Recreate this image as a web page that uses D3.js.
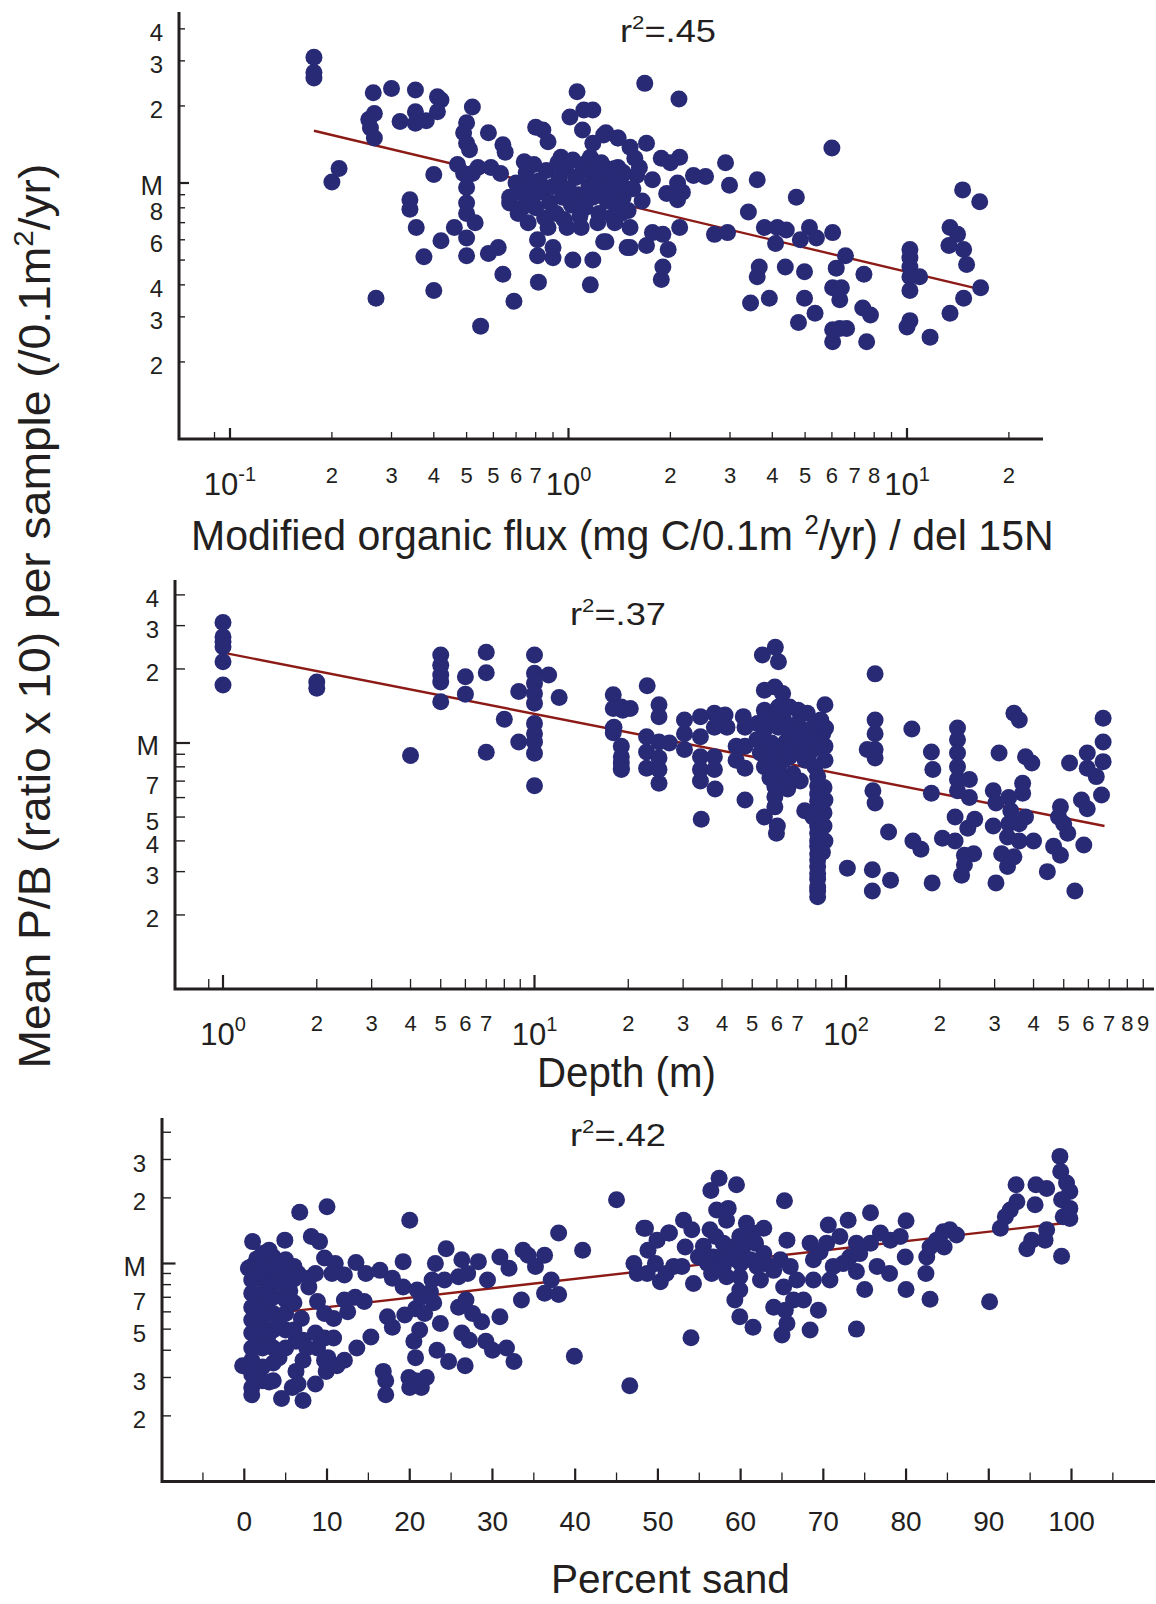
<!DOCTYPE html>
<html>
<head>
<meta charset="utf-8">
<script src="https://cdn.jsdelivr.net/npm/d3@7"></script>
<style>
  body { margin: 0; background: #fff; }
  text { font-family: "Liberation Sans", Arial, Helvetica, sans-serif; fill: #231f20; }
</style>
</head>
<body>
<script>
// ---- data ----
// top: P/B vs modified organic flux / del 15N  [flux, P/B]
var fluxPts = [
  [0.177,3.1],[0.177,2.7],[0.177,2.57],[0.2,1.01],[0.21,1.14],
  [0.265,2.25],[0.257,1.77],[0.267,1.87],[0.26,1.64],[0.267,1.5],
  [0.30,2.34],[0.353,2.31],[0.318,1.74],[0.353,1.9],[0.353,1.71],[0.38,1.75],
  [0.41,2.17],[0.42,2.11],[0.41,1.9],[0.40,1.08],
  [0.34,0.86],[0.34,0.79],[0.355,0.67],[0.374,0.515],[0.42,0.595],[0.40,0.38],[0.27,0.355],
  [0.52,1.98],[0.50,1.72],[0.49,1.57],[0.50,1.43],[0.51,1.35],[0.47,1.18],[0.49,1.09],[0.52,1.09],
  [0.50,0.96],[0.54,1.15],[0.50,0.835],[0.50,0.76],[0.53,0.70],[0.50,0.61],[0.50,0.52],[0.46,0.67],
  [0.58,0.53],[0.62,0.56],[0.64,0.44],[0.69,0.345],[0.55,0.276],
  [0.58,1.57],[0.64,1.41],[0.65,1.32],[0.59,1.15],[0.63,1.09],
  [0.74,1.21],[0.80,1.65],[0.84,1.61],[0.87,1.45],[0.67,0.88],[0.67,0.835],[0.71,0.76],[0.76,0.70],
  [0.87,0.67],[0.81,0.60],[0.81,0.52],[0.90,0.51],[0.90,0.56],[0.815,0.41],[1.03,0.50],[1.18,0.50],
  [1.16,0.40],[1.27,0.59],[1.49,0.56],[0.99,0.67],[1.09,0.67],[1.06,2.27],[1.01,1.81],[1.10,1.61],
  [1.11,1.93],[1.18,1.93],[1.18,1.43],[1.27,1.54],[1.40,1.5],[1.40,1.15],[0.95,1.26],[1.03,1.23],[1.16,1.26],
  [0.70,1.0],[0.72,0.92],[0.75,1.1],[0.77,0.97],[0.78,0.86],[0.80,0.80],[0.82,1.02],[0.84,0.92],
  [0.86,1.12],[0.88,0.84],[0.90,0.97],[0.92,0.76],[0.94,1.05],[0.96,0.88],[0.98,1.14],[1.0,0.95],
  [1.02,0.82],[1.05,1.05],[1.07,0.90],[1.10,1.12],[1.12,0.80],[1.15,0.98],[1.18,0.88],[1.20,1.08],
  [1.23,0.76],[1.25,0.95],[1.28,1.15],[1.30,0.85],[1.33,1.02],[1.36,0.92],[1.40,0.80],[1.43,1.06],
  [1.46,0.96],[0.73,0.80],[0.85,0.73],[0.97,0.72],[1.08,0.74],[0.79,1.18],[0.93,1.20],[1.13,1.20],
  [1.22,0.70],[1.35,0.74],
  [1.68,2.45],[2.12,2.13],[6.0,1.37],
  [1.29,1.57],[1.40,1.50],[1.52,1.38],[1.70,1.43],[1.57,1.25],[1.88,1.25],[2.13,1.26],[2.0,1.2],
  [1.77,1.03],[1.59,1.07],[1.37,1.14],[1.37,0.96],[1.30,0.86],[1.43,0.76],[1.52,0.67],[1.37,0.70],
  [1.29,0.59],[1.52,0.56],[1.70,0.57],[1.77,0.64],[1.90,0.63],[1.97,0.55],[1.90,0.47],[1.88,0.42],
  [1.95,0.91],[2.10,0.86],[2.17,0.92],[2.13,0.67],[2.10,1.0],[2.34,1.07],[2.54,1.06],[2.91,1.2],
  [2.99,0.98],[2.70,0.63],[2.95,0.64],[3.61,1.03],[3.40,0.77],[3.79,0.67],[4.14,0.67],[4.09,0.58],
  [4.40,0.655],[4.71,0.88],[4.84,0.60],[5.15,0.67],[5.40,0.61],[6.03,0.64],[6.58,0.52],[6.18,0.465],
  [7.46,0.44],[3.66,0.47],[3.61,0.43],[4.37,0.47],[4.98,0.45],[3.45,0.34],[3.92,0.355],[4.98,0.355],
  [5.35,0.31],[4.78,0.285],[6.03,0.39],[6.40,0.39],[6.33,0.35],[6.03,0.267],[6.33,0.27],[6.63,0.27],
  [6.03,0.24],[7.40,0.325],[7.8,0.305],[7.6,0.24],
  [10.2,0.55],[10.2,0.51],[10.2,0.47],[10.2,0.43],[10.9,0.43],[10.2,0.38],[10.2,0.29],[10.0,0.274],[11.7,0.25],
  [13.4,0.67],[14.1,0.63],[13.3,0.57],[14.7,0.55],[15.0,0.48],[14.6,0.94],[16.4,0.845],[16.5,0.39],
  [14.7,0.355],[13.4,0.31],
  [1.30,1.0],[1.45,1.1],[1.55,0.95],[1.45,0.88],[1.62,1.15],[1.25,1.2],[1.65,0.85],[1.50,0.78]
];
var fluxFit = [[0.177,1.6],[15.7,0.39]];

// middle: P/B vs depth (m)  [depth, P/B]
var depthPts = [
  [1,3.09],[1,2.70],[1,2.58],[1,2.46],[1,2.14],[1,1.72],[2,1.77],[2,1.67],[4,0.89],
  [5,2.28],[5,2.07],[5,1.89],[5,1.77],[5,1.47],[6,1.86],[6,1.58],[7,2.34],[7,1.93],[7,0.917],
  [8,1.25],[8.9,1.62],[8.9,1.01],
  [10,2.28],[10,1.92],[10,1.75],[10,1.59],[10,1.45],[10,1.20],[10,1.09],[10,1.01],[10,0.908],[10,0.67],
  [11.1,1.89],[12,1.53],
  [17.9,1.57],[17.9,1.38],[17.9,1.15],[17.9,1.1],[19,0.97],[19,0.88],[19,0.79],[19.2,1.36],
  [18,1.16],[19,1.40],[20.3,1.38],[19,0.83],[19,0.78],[23,1.71],[22.9,1.06],[22.9,0.92],[22.9,0.79],
  [25.1,1.43],[25.1,1.28],[25.1,1.01],[25.1,0.87],[25.1,0.78],[25.1,0.686],[27.1,1.0],
  [30.3,1.24],[30.3,1.09],[30.3,0.94],[34.1,1.28],[34.1,1.06],[34.1,0.88],[34.1,0.78],[34.1,0.70],
  [34.3,0.49],[37.8,1.32],[37.8,1.16],[37.8,0.88],[37.8,0.78],[38,0.65],[40.9,1.30],[41.5,1.16],
  [44.4,0.97],[44.4,0.85],[47.4,1.16],[47.4,0.97],[47.4,0.79],[46.8,1.28],[47.4,0.586],
  [53.9,2.28],[59.3,2.45],[60.7,2.14],[54.7,1.64],[59.1,1.69],[62.6,1.59],[54.7,1.36],[60.7,1.40],
  [65.9,1.40],[54.7,1.13],[60.7,1.16],[67.6,1.16],[51.7,1.03],[57.6,1.0],[64.1,1.01],[53.1,0.91],
  [59.1,0.88],[65.9,0.88],[54.7,0.80],[60.7,0.78],[67.6,0.75],[59.1,0.665],[59.1,0.605],[59.1,0.55],
  [54.7,0.50],[60.2,0.46],[59.8,0.43],[70.2,1.36],[71.3,1.09],[75.1,1.03],[75.1,1.32],[83,1.24],
  [85.6,1.43],[84.2,1.09],[85.6,0.97],[85.6,0.85],[79.5,0.80],[73.7,0.53],[71.3,0.70],
  [57,1.25],[63,1.25],[56,0.95],[62,0.95],[66,1.05],[52,1.2],[57,0.72],[63,0.85],[68,0.95],[70,1.2],
  [72,0.95],[74,0.85],[76,0.9],[79,0.95],[83,1.0],[78,1.15],[86,1.15],[62,0.72],[65,0.65],
  [81.1,0.73],[81.1,0.67],[81.1,0.62],[81.1,0.58],[81.1,0.55],[81.1,0.52],[81.1,0.49],[81.1,0.46],
  [81.1,0.43],[81.1,0.40],[81.1,0.38],[81.1,0.355],[81.1,0.335],[81.1,0.315],[81.1,0.295],[81.1,0.28],
  [81.1,0.26],[81.1,0.25],[81.1,0.237],[85.6,0.586],[85.6,0.40],[78.3,0.50],[85,0.66],[85,0.52],
  [85,0.46],[84,0.36],
  [101,0.31],[121.5,0.305],[139,0.277],[121.5,0.25],
  [124,1.91],[124,1.24],[124,1.09],[124,0.94],[124,0.87],[117,0.94],[122,0.64],[124,0.57],
  [137,0.435],[162.7,1.14],[164,0.40],[174,0.37],
  [188,0.92],[190,0.78],[188,0.625],[189,0.27],[204,0.41],[224,0.40],
  [228,1.15],[228,1.03],[228,0.91],[228,0.80],[228,0.71],[228,0.64],[249,0.71],[249,0.60],[224,0.50],
  [259,0.49],[246,0.45],[240,0.35],[257,0.355],[240,0.32],[235,0.29],
  [310,0.91],[297,0.64],[303,0.57],[333,0.60],[338,0.53],[333,0.47],[297,0.46],[330,0.415],[360,0.40],
  [400,0.40],[316,0.355],[346,0.345],[330,0.315],[303,0.27],[346,1.32],[360,1.24],
  [377,0.88],[395,0.83],[369,0.686],[369,0.625],[377,0.50],[360,0.47],
  [443,0.30],[464,0.38],[488,0.55],[481,0.50],[500,0.47],[515,0.43],[488,0.35],[522,0.83],[543,0.25],
  [580,0.385],[570,0.586],[595,0.54],[595,0.91],[595,0.79],[636,0.73],[661,0.615],[669,1.26],
  [669,1.01],[669,0.84]
];
var depthFit = [[1,2.33],[676,0.46]];

// bottom: P/B vs percent sand  [sand, P/B]
var sandPts = [
  [1.0,1.26],[6.7,1.72],[10.0,1.82],[4.9,1.28],[8.1,1.33],[9.1,1.26],[20.0,1.58],
  [0.9,0.97],[0.9,0.84],[0.9,0.73],[0.9,0.63],[0.9,0.55],[0.9,0.48],[0.9,0.41],[0.9,0.36],[0.9,0.31],
  [0.9,0.27],[0.9,0.25],[-0.2,0.34],
  [2.2,1.11],[2.2,0.97],[2.2,0.84],[2.2,0.73],[2.2,0.63],[2.2,0.55],[2.2,0.48],[2.2,0.41],[2.2,0.335],[2.2,0.29],
  [3.5,1.07],[3.5,0.93],[3.5,0.81],[3.5,0.70],[3.5,0.59],[3.5,0.495],[3.5,0.41],[3.5,0.35],[3.5,0.29],
  [4.5,0.24],[5,1.04],[5,0.90],[5,0.78],[5,0.68],[5,0.59],[5,0.495],[5,0.41],
  [6,0.97],[6,0.85],[6,0.66],[6,0.495],
  [6.9,0.56],[6.25,0.44],[7.1,0.445],[6.25,0.32],[6.5,0.28],[7.1,0.235],[5.8,0.27],[3.0,0.286],
  [1.5,1.05],[3,1.15],[4.2,0.88],[1.5,0.68],[2.8,0.62],[4.2,0.55],[1.5,0.45],[2.8,0.45],[4.2,0.37],
  [1.5,0.3],[5.5,0.75],[1.2,0.9],[6.5,0.9],[4,1.0],[2.5,1.05],[0.5,0.95],
  [7.8,0.855],[7.8,0.78],[8.6,0.90],[9.7,1.06],[11.0,1.0],[10.6,0.90],[12.1,0.885],[8.85,0.67],
  [9.7,0.59],[10.8,0.56],[12.1,0.68],[12.5,0.60],[13.4,0.70],[14.5,0.67],[13.5,1.01],[14.7,0.90],
  [16.4,0.93],[17.9,0.855],[19.2,1.02],[19.2,0.78],[17.3,0.57],[17.9,0.51],[19.4,0.58],[15.3,0.46],
  [13.6,0.41],[12.1,0.36],[11.2,0.34],[9.7,0.36],[8.85,0.41],[8.6,0.48],[9.7,0.455],[10.8,0.455],
  [7.55,0.41],[7.1,0.36],[8.6,0.28],[9.9,0.32],[10.1,0.37],
  [17.1,0.29],[17.1,0.25],[16.8,0.32],[19.9,0.30],[20.0,0.27],[21.4,0.27],[22.0,0.30],[20.7,0.29],
  [20.5,0.44],[20.7,0.37],[21.2,0.495],[20.7,0.62],[21.8,0.59],[21.4,0.70],[20.9,0.755],[22.5,0.74],
  [22.9,0.66],[23.7,0.53],[23.3,0.40],[24.7,0.355],[23.1,1.0],[22.7,0.84],[24.4,1.17],[24.2,0.84],
  [25.9,0.87],[26.3,1.04],[27.0,0.90],[25.9,0.63],[26.8,0.68],[27.6,0.59],[26.3,0.48],[27.2,0.445],
  [28.7,0.54],[28.3,1.02],[29.2,0.44],[30.0,0.40],[26.7,0.34],[29.4,0.84],[30.9,1.07],[32.0,0.95],
  [30.9,0.57],[31.7,0.41],[32.6,0.355],[33.5,0.68],[33.7,1.15],[34.3,1.09],[35.2,0.97],[36.3,1.09],
  [37.1,0.84],[36.3,0.73],[38.0,0.72],[38.0,1.38],[40.9,1.15],[39.9,0.375],[45.0,1.96],[46.6,0.275],
  [48.3,1.45],[47.1,1.0],[47.5,0.90],[48.8,1.15],[49.9,1.28],[49.7,1.0],[51.0,0.90],[51.4,1.38],
  [52.9,0.97],[53.1,1.58],[54.0,0.456],
  [56.4,2.16],[57.4,2.46],[59.5,2.30],[65.3,1.94],[48.5,1.45],[51.3,1.38],[54.1,1.43],[56.3,1.43],
  [57.1,1.76],[58.5,1.79],[58.3,1.58],[60.7,1.53],[62.8,1.45],[61.5,1.38],[59.9,1.33],[53.3,1.19],
  [54.9,1.07],[56.7,1.07],[57.9,1.24],[59.1,1.19],[60.3,1.19],[61.8,1.24],[62.8,1.11],[61.2,1.04],
  [59.5,1.04],[57.9,0.97],[58.3,0.87],[56.5,0.90],[51.9,0.97],[50.3,0.825],[48.7,0.90],[54.3,0.81],
  [59.9,0.87],[62.4,0.84],[59.9,0.755],[59.3,0.68],[59.9,0.57],[61.5,0.51],
  [55.5,1.2],[58,1.1],[60,1.0],[62,0.97],[56,1.0],[63,1.0],[57,1.33],[61,1.3],
  [65.6,1.28],[64.8,1.04],[64.0,0.93],[66.0,0.97],[66.8,0.84],[65.2,0.78],[66.4,0.68],[67.6,0.68],
  [64.0,0.63],[65.4,0.61],[65.6,0.53],[65.0,0.47],[68.4,0.495],[69.4,0.61],[68.4,1.24],[69.6,1.13],
  [68.8,1.04],[70.4,1.24],[71.2,0.97],[70.8,0.84],[68.8,0.84],[70.6,1.50],[72.0,1.33],[73.0,1.58],
  [74.0,1.24],[73.2,1.07],[72.4,1.0],[74.4,1.11],[74.0,0.92],[75.7,1.24],[76.9,1.38],[78.1,1.28],
  [75.7,1.71],[75.0,0.76],[76.5,0.97],[78.0,0.90],[79.3,1.33],[80.0,1.57],[79.9,1.07],[80.0,0.76],
  [74.0,0.50],
  [82.4,0.90],[82.5,1.07],[82.9,1.19],[83.7,1.28],[84.5,1.40],[85.3,1.43],[86.1,1.35],[84.6,1.19],
  [82.9,0.686],[90.1,0.667],
  [91.4,1.45],[92.0,1.64],[92.6,1.76],[93.4,1.92],[93.3,2.30],[95.7,2.30],[97.0,2.21],[95.6,1.86],
  [94.6,1.17],[95.2,1.28],[96.8,1.28],[97.0,1.43],[98.6,3.10],[98.7,2.64],[99.4,2.34],[99.8,2.14],
  [98.8,1.96],[99.8,1.79],[99.0,1.64],[99.8,1.61],[98.8,1.08]
];
var sandFit = [[5,0.60],[99,1.53]];

var rSquared = [".45", ".37", ".42"];

// tick values and labels ("10^e" = power of ten label, "" = unlabeled tick)
var pbTickVals = [4,3,2,1,0.9,0.8,0.7,0.6,0.5,0.4,0.3,0.2];
var fluxYLabels  = ["4","3","2","M","","8","","6","","4","3","2"];
var depthYLabels = ["4","3","2","M","","","7","","5","4","3","2"];
var sandYLabels  = ["","3","2","M","","","7","","5","","3","2"];

var fluxTickVals = [0.09,0.1,0.2,0.3,0.4,0.5,0.6,0.7,0.8,0.9,1,2,3,4,5,6,7,8,9,10,20];
var fluxTickLabels = ["","10^-1","2","3","4","5","5","6","7","","10^0","2","3","4","5","6","7","8","","10^1","2"];

var depthTickVals = [0.9,1,2,3,4,5,6,7,8,9,10,20,30,40,50,60,70,80,90,100,200,300,400,500,600,700,800,900];
var depthTickLabels = ["","10^0","2","3","4","5","6","7","","","10^1","2","3","4","5","6","7","","","10^2","2","3","4","5","6","7","8","9"];

var sandTickVals = [-5,0,5,10,15,20,25,30,35,40,45,50,55,60,65,70,75,80,85,90,95,100,105];
var sandTickLabels = ["","0","","10","","20","","30","","40","","50","","60","","70","","80","","90","","100",""];

// ---- drawing ----
var ink = "#231f20", dotColor = "#282a76", fitColor = "#8c1a16";
var svg = d3.select("body").append("svg").attr("width", 1156).attr("height", 1604);
svg.append("rect").attr("width", 1156).attr("height", 1604).attr("fill", "#fff");

// squeeze/stretch a text horizontally so it spans w pixels (keeps the anchor point)
function fitWidth(t, w, anchor) {
  var bb = t.node().getBBox();
  var k = w / bb.width;
  var ax = anchor == "middle" ? bb.x + bb.width / 2 : bb.x;
  t.attr("transform", "translate(" + ax + ",0) scale(" + k + ",1) translate(" + (-ax) + ",0)");
}

function drawPanel(p) {
  var g = svg.append("g");
  var x = p.x, y = p.y;

  // regression line
  g.append("path")
    .datum(p.fit)
    .attr("fill", "none")
    .attr("stroke", fitColor)
    .attr("stroke-width", 2.4)
    .attr("d", d3.line().x(function(d) { return x(d[0]); }).y(function(d) { return y(d[1]); }));

  // points
  g.selectAll("circle.pt")
    .data(p.pts)
    .enter().append("circle")
    .attr("class", "pt")
    .attr("cx", function(d) { return x(d[0]); })
    .attr("cy", function(d) { return y(d[1]); })
    .attr("r", 8.5)
    .attr("fill", dotColor);

  // axes
  g.append("path")
    .attr("d", "M" + p.left + "," + p.top + "V" + p.bottom + "H" + p.right)
    .attr("fill", "none").attr("stroke", ink).attr("stroke-width", 3);

  // y ticks
  pbTickVals.forEach(function(v, i) {
    var yy = y(v), major = v == 1;
    g.append("line")
      .attr("x1", p.left).attr("x2", p.left + (major ? p.yMajor : p.yMinor))
      .attr("y1", yy).attr("y2", yy)
      .attr("stroke", ink).attr("stroke-width", major ? 2.2 : 1.4);
    var lab = p.yLabels[i];
    if (lab) {
      g.append("text")
        .attr("x", p.left - 16)
        .attr("y", yy + (lab == "M" ? 12 : 12.5))
        .attr("text-anchor", "end")
        .attr("font-size", lab == "M" ? 27 : 24)
        .text(lab);
    }
  });

  // x ticks
  p.xTicks.forEach(function(v, i) {
    var xx = x(v), lab = p.xLabels[i];
    var major = p.isMajor(v, lab);
    g.append("line")
      .attr("x1", xx).attr("x2", xx)
      .attr("y1", p.bottom).attr("y2", p.bottom - (major ? p.xMajor : p.xMinor))
      .attr("stroke", ink).attr("stroke-width", major ? 2.2 : 1.3);
    if (!lab) return;
    if (lab.indexOf("10^") == 0) {
      var t = g.append("text")
        .attr("x", xx).attr("y", p.bottom + 56)
        .attr("text-anchor", "middle");
      t.append("tspan").attr("font-size", 31).text("10");
      t.append("tspan").attr("font-size", 20).attr("dy", -14).text(lab.slice(3));
    } else {
      g.append("text")
        .attr("x", xx).attr("y", p.bottom + p.labelDy)
        .attr("text-anchor", "middle")
        .attr("font-size", p.labelSize)
        .text(lab);
    }
  });

  // r^2
  var r = g.append("text").attr("x", p.rX).attr("y", p.rY).attr("font-size", 31);
  r.append("tspan").text("r");
  r.append("tspan").attr("font-size", 19).attr("dy", -13).text("2");
  r.append("tspan").attr("dy", 13).text("=" + p.r2);
  fitWidth(r, 96, "start");

  // x title
  var tt = g.append("text").attr("x", p.titleX).attr("y", p.titleY).attr("font-size", p.titleSize || 43);
  p.title(tt);
  fitWidth(tt, p.titleW, "start");
}

drawPanel({
  pts: fluxPts, fit: fluxFit, r2: rSquared[0],
  x: d3.scaleLog().domain([0.1, 10]).range([230, 907]),
  y: d3.scaleLog().domain([0.1, 1]).range([439, 183]),
  left: 179, right: 1043, top: 12, bottom: 439,
  yMinor: 6, yMajor: 10, xMinor: 7, xMajor: 11,
  yLabels: fluxYLabels, xTicks: fluxTickVals, xLabels: fluxTickLabels,
  isMajor: function(v, lab) { return lab.indexOf("10^") == 0; },
  labelDy: 44, labelSize: 22,
  rX: 620, rY: 42,
  titleX: 191, titleY: 550, titleW: 863,
  title: function(t) {
    t.append("tspan").text("Modified organic flux (mg C/0.1m ");
    t.append("tspan").attr("font-size", 27).attr("dy", -16).text("2");
    t.append("tspan").attr("dy", 16).text("/yr) / del 15N");
  }
});

drawPanel({
  pts: depthPts, fit: depthFit, r2: rSquared[1],
  x: d3.scaleLog().domain([1, 100]).range([223, 846]),
  y: d3.scaleLog().domain([0.1, 1]).range([989, 743]),
  left: 175, right: 1154, top: 580, bottom: 989,
  yMinor: 10, yMajor: 15, xMinor: 10, xMajor: 14,
  yLabels: depthYLabels, xTicks: depthTickVals, xLabels: depthTickLabels,
  isMajor: function(v, lab) { return lab.indexOf("10^") == 0; },
  labelDy: 42, labelSize: 22,
  rX: 570, rY: 625,
  titleX: 537, titleY: 1087, titleW: 179,
  title: function(t) { t.text("Depth (m)"); }
});

drawPanel({
  pts: sandPts, fit: sandFit, r2: rSquared[2],
  x: d3.scaleLinear().domain([0, 100]).range([244.3, 1071.5]),
  y: d3.scaleLog().domain([0.1, 1]).range([1481.5, 1263.5]),
  left: 162, right: 1155, top: 1118, bottom: 1481.5,
  yMinor: 9, yMajor: 13.5, xMinor: 9, xMajor: 13,
  yLabels: sandYLabels, xTicks: sandTickVals, xLabels: sandTickLabels,
  isMajor: function(v, lab) { return lab != ""; },
  labelDy: 49, labelSize: 28,
  rX: 570, rY: 1146,
  titleX: 551, titleY: 1593, titleW: 239, titleSize: 40,
  title: function(t) { t.text("Percent sand"); }
});

// shared y title
var yg = svg.append("g").attr("transform", "translate(50,616) rotate(-90)");
var yt = yg.append("text").attr("x", 0).attr("y", 0).attr("text-anchor", "middle").attr("font-size", 44);
yt.append("tspan").text("Mean P/B (ratio x 10) per sample (/0.1m");
yt.append("tspan").attr("font-size", 28).attr("dy", -17).text("2");
yt.append("tspan").attr("dy", 17).text("/yr)");
fitWidth(yt, 905, "middle");
</script>
</body>
</html>
